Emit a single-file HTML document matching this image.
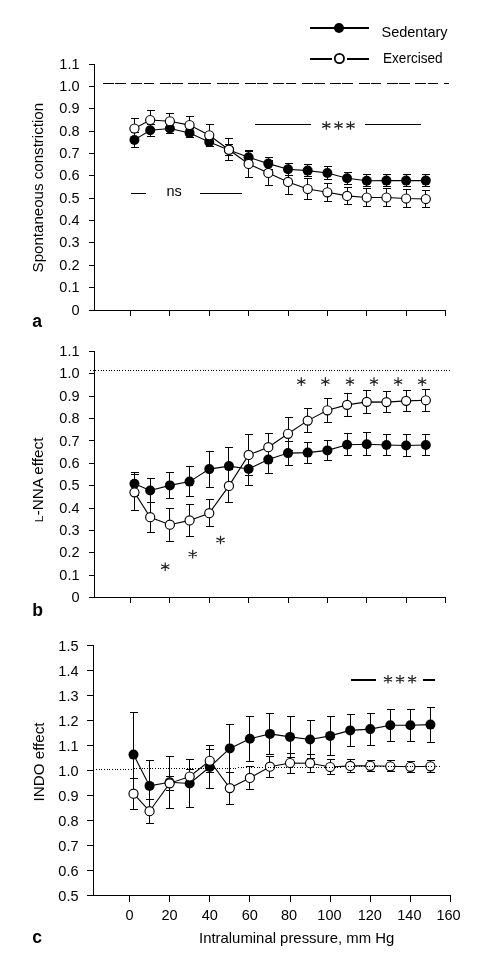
<!DOCTYPE html>
<html><head><meta charset="utf-8"><style>
html,body{margin:0;padding:0;background:#fff;}
svg{display:block;will-change:transform;}
text{font-family:"Liberation Sans", sans-serif;fill:#000;}
.tl{font-size:14.5px;}
.tt{font-size:14.5px;}
.pl{font-size:17.6px;font-weight:bold;}
.ax{fill:none;stroke:#000;stroke-width:1;shape-rendering:crispEdges;}
.eb{fill:none;stroke:#000;stroke-width:1;shape-rendering:crispEdges;}
.ln{fill:none;stroke:#000;stroke-width:1.1;}
.fm circle{fill:#000;}
.om circle{fill:#fff;stroke:#000;stroke-width:1.15;}
.dash{fill:none;stroke:#000;stroke-width:1;stroke-dasharray:11 1.2 10.5 5.7;shape-rendering:crispEdges;}
.dot{fill:none;stroke:#000;stroke-width:1;stroke-dasharray:1 1.68;shape-rendering:crispEdges;}
.ann{fill:none;stroke:#000;stroke-width:1;shape-rendering:crispEdges;}
.ann2{fill:none;stroke:#000;stroke-width:2;}
.leg{fill:none;stroke:#000;stroke-width:2;}
.ast{fill:none;stroke:#222;stroke-width:1.2;}
</style></head><body>
<svg width="498" height="969" viewBox="0 0 498 969">
<rect width="498" height="969" fill="#fff"/>
<path class="ax" d="M94.5 64.5V310.5H446M89 310.5H94.5M89 287.5H94.5M89 265.5H94.5M89 242.5H94.5M89 220.5H94.5M89 198.5H94.5M89 175.5H94.5M89 153.5H94.5M89 131.5H94.5M89 108.5H94.5M89 86.5H94.5M89 64.5H94.5M130.5 310.5V316M169.88 310.5V316M209.25 310.5V316M248.62 310.5V316M288 310.5V316M327.38 310.5V316M366.75 310.5V316M406.12 310.5V316M445.5 310.5V316"/>
<text class="tl" x="79.5" y="315.1" text-anchor="end">0</text>
<text class="tl" x="79.5" y="292.1" text-anchor="end">0.1</text>
<text class="tl" x="79.5" y="270.1" text-anchor="end">0.2</text>
<text class="tl" x="79.5" y="247.1" text-anchor="end">0.3</text>
<text class="tl" x="79.5" y="225.1" text-anchor="end">0.4</text>
<text class="tl" x="79.5" y="203.1" text-anchor="end">0.5</text>
<text class="tl" x="79.5" y="180.1" text-anchor="end">0.6</text>
<text class="tl" x="79.5" y="158.1" text-anchor="end">0.7</text>
<text class="tl" x="79.5" y="136.1" text-anchor="end">0.8</text>
<text class="tl" x="79.5" y="113.1" text-anchor="end">0.9</text>
<text class="tl" x="79.5" y="91.1" text-anchor="end">1.0</text>
<text class="tl" x="79.5" y="69.1" text-anchor="end">1.1</text>
<path class="dash" d="M103 83.5H449"/>
<path class="ann" d="M255 124.5H311M365 124.5H421M131 193.5H146M200 193.5H242"/>
<path class="ast" d="M326.3 121.2V129.8M322.2 123.6L330.4 127.4M322.2 127.4L330.4 123.6M338.5 121.2V129.8M334.4 123.6L342.6 127.4M334.4 127.4L342.6 123.6M350.5 121.2V129.8M346.4 123.6L354.6 127.4M346.4 127.4L354.6 123.6"/>
<text class="tl" x="166.4" y="195.9">ns</text>
<path class="eb" d="M134.5 132.5V147.5M130.9 132.5H139M130.9 147.5H139M134.5 118.5V138.5M130.9 118.5H139M130.9 138.5H139M150.5 124.5V136.5M146.9 124.5H155M146.9 136.5H155M150.5 110.5V129.5M146.9 110.5H155M146.9 129.5H155M169.5 123.5V133.5M165.9 123.5H174M165.9 133.5H174M169.5 113.5V128.5M165.9 113.5H174M165.9 128.5H174M189.5 128.5V137.5M185.9 128.5H194M185.9 137.5H194M189.5 116.5V133.5M185.9 116.5H194M185.9 133.5H194M209.5 137.5V146.5M205.9 137.5H214M205.9 146.5H214M209.5 124.5V146.5M205.9 124.5H214M205.9 146.5H214M228.5 144.5V155.5M224.9 144.5H233M224.9 155.5H233M228.5 138.5V160.5M224.9 138.5H233M224.9 160.5H233M248.5 151.5V162.5M244.9 151.5H253M244.9 162.5H253M248.5 150.5V177.5M244.9 150.5H253M244.9 177.5H253M268.5 157.5V169.5M264.9 157.5H273M264.9 169.5H273M268.5 160.5V185.5M264.9 160.5H273M264.9 185.5H273M288.5 163.5V175.5M284.9 163.5H293M284.9 175.5H293M288.5 169.5V194.5M284.9 169.5H293M284.9 194.5H293M307.5 164.5V176.5M303.9 164.5H312M303.9 176.5H312M307.5 178.5V199.5M303.9 178.5H312M303.9 199.5H312M327.5 166.5V179.5M323.9 166.5H332M323.9 179.5H332M327.5 183.5V201.5M323.9 183.5H332M323.9 201.5H332M347.5 172.5V184.5M343.9 172.5H352M343.9 184.5H352M347.5 187.5V204.5M343.9 187.5H352M343.9 204.5H352M366.5 174.5V186.5M362.9 174.5H371M362.9 186.5H371M366.5 188.5V206.5M362.9 188.5H371M362.9 206.5H371M386.5 174.5V186.5M382.9 174.5H391M382.9 186.5H391M386.5 188.5V206.5M382.9 188.5H391M382.9 206.5H391M406.5 174.5V186.5M402.9 174.5H411M402.9 186.5H411M406.5 189.5V207.5M402.9 189.5H411M402.9 207.5H411M425.5 174.5V186.5M421.9 174.5H430M421.9 186.5H430M425.5 190.5V207.5M421.9 190.5H430M421.9 207.5H430"/>
<polyline class="ln" points="134.44,139.9 150.19,130.3 169.88,128.5 189.56,132.9 209.25,141.9 228.94,149.9 248.62,157.3 268.31,163.6 288,169.3 307.69,170.6 327.38,173 347.06,178.3 366.75,180.8 386.44,180.6 406.12,180.6 425.81,180.6"/>
<polyline class="ln" points="134.44,128.5 150.19,120 169.88,121.3 189.56,125.1 209.25,135.3 228.94,149.7 248.62,163.9 268.31,172.9 288,181.9 307.69,189 327.38,192.3 347.06,195.9 366.75,197.5 386.44,197.5 406.12,198.5 425.81,199"/>
<g class="fm"><circle cx="134.44" cy="139.9" r="5"/><circle cx="150.19" cy="130.3" r="5"/><circle cx="169.88" cy="128.5" r="5"/><circle cx="189.56" cy="132.9" r="5"/><circle cx="209.25" cy="141.9" r="5"/><circle cx="228.94" cy="149.9" r="5"/><circle cx="248.62" cy="157.3" r="5"/><circle cx="268.31" cy="163.6" r="5"/><circle cx="288" cy="169.3" r="5"/><circle cx="307.69" cy="170.6" r="5"/><circle cx="327.38" cy="173" r="5"/><circle cx="347.06" cy="178.3" r="5"/><circle cx="366.75" cy="180.8" r="5"/><circle cx="386.44" cy="180.6" r="5"/><circle cx="406.12" cy="180.6" r="5"/><circle cx="425.81" cy="180.6" r="5"/></g>
<g class="om"><circle cx="134.44" cy="128.5" r="4.55"/><circle cx="150.19" cy="120" r="4.55"/><circle cx="169.88" cy="121.3" r="4.55"/><circle cx="189.56" cy="125.1" r="4.55"/><circle cx="209.25" cy="135.3" r="4.55"/><circle cx="228.94" cy="149.7" r="4.55"/><circle cx="248.62" cy="163.9" r="4.55"/><circle cx="268.31" cy="172.9" r="4.55"/><circle cx="288" cy="181.9" r="4.55"/><circle cx="307.69" cy="189" r="4.55"/><circle cx="327.38" cy="192.3" r="4.55"/><circle cx="347.06" cy="195.9" r="4.55"/><circle cx="366.75" cy="197.5" r="4.55"/><circle cx="386.44" cy="197.5" r="4.55"/><circle cx="406.12" cy="198.5" r="4.55"/><circle cx="425.81" cy="199" r="4.55"/></g>
<path class="ax" d="M94.5 351.5V597.5H446M89 597.5H94.5M89 575.14H94.5M89 552.77H94.5M89 530.41H94.5M89 508.05H94.5M89 485.68H94.5M89 463.32H94.5M89 440.95H94.5M89 418.59H94.5M89 396.23H94.5M89 373.86H94.5M89 351.5H94.5M130.5 597.5V603M169.88 597.5V603M209.25 597.5V603M248.62 597.5V603M288 597.5V603M327.38 597.5V603M366.75 597.5V603M406.12 597.5V603M445.5 597.5V603"/>
<text class="tl" x="79.5" y="602.1" text-anchor="end">0</text>
<text class="tl" x="79.5" y="579.74" text-anchor="end">0.1</text>
<text class="tl" x="79.5" y="557.37" text-anchor="end">0.2</text>
<text class="tl" x="79.5" y="535.01" text-anchor="end">0.3</text>
<text class="tl" x="79.5" y="512.65" text-anchor="end">0.4</text>
<text class="tl" x="79.5" y="490.28" text-anchor="end">0.5</text>
<text class="tl" x="79.5" y="467.92" text-anchor="end">0.6</text>
<text class="tl" x="79.5" y="445.55" text-anchor="end">0.7</text>
<text class="tl" x="79.5" y="423.19" text-anchor="end">0.8</text>
<text class="tl" x="79.5" y="400.83" text-anchor="end">0.9</text>
<text class="tl" x="79.5" y="378.46" text-anchor="end">1.0</text>
<text class="tl" x="79.5" y="356.1" text-anchor="end">1.1</text>
<path class="eb" d="M134.5 472.5V495.5M130.9 472.5H139M130.9 495.5H139M134.5 474.5V510.5M130.9 474.5H139M130.9 510.5H139M150.5 478.5V502.5M146.9 478.5H155M146.9 502.5H155M150.5 502.5V532.5M146.9 502.5H155M146.9 532.5H155M169.5 472.5V498.5M165.9 472.5H174M165.9 498.5H174M169.5 508.5V541.5M165.9 508.5H174M165.9 541.5H174M189.5 466.5V496.5M185.9 466.5H194M185.9 496.5H194M189.5 504.5V536.5M185.9 504.5H194M185.9 536.5H194M209.5 451.5V487.5M205.9 451.5H214M205.9 487.5H214M209.5 499.5V526.5M205.9 499.5H214M205.9 526.5H214M228.5 447.5V484.5M224.9 447.5H233M224.9 484.5H233M228.5 469.5V502.5M224.9 469.5H233M224.9 502.5H233M248.5 452.5V485.5M244.9 452.5H253M244.9 485.5H253M248.5 434.5V475.5M244.9 434.5H253M244.9 475.5H253M268.5 446.5V473.5M264.9 446.5H273M264.9 473.5H273M268.5 433.5V461.5M264.9 433.5H273M264.9 461.5H273M288.5 441.5V465.5M284.9 441.5H293M284.9 465.5H293M288.5 417.5V450.5M284.9 417.5H293M284.9 450.5H293M307.5 442.5V463.5M303.9 442.5H312M303.9 463.5H312M307.5 408.5V432.5M303.9 408.5H312M303.9 432.5H312M327.5 440.5V460.5M323.9 440.5H332M323.9 460.5H332M327.5 398.5V422.5M323.9 398.5H332M323.9 422.5H332M347.5 433.5V455.5M343.9 433.5H352M343.9 455.5H352M347.5 393.5V416.5M343.9 393.5H352M343.9 416.5H352M366.5 432.5V455.5M362.9 432.5H371M362.9 455.5H371M366.5 390.5V413.5M362.9 390.5H371M362.9 413.5H371M386.5 434.5V455.5M382.9 434.5H391M382.9 455.5H391M386.5 391.5V412.5M382.9 391.5H391M382.9 412.5H391M406.5 434.5V456.5M402.9 434.5H411M402.9 456.5H411M406.5 390.5V411.5M402.9 390.5H411M402.9 411.5H411M425.5 434.5V455.5M421.9 434.5H430M421.9 455.5H430M425.5 389.5V411.5M421.9 389.5H430M421.9 411.5H430"/>
<polyline class="ln" points="134.44,483.8 150.19,490.5 169.88,485.4 189.56,481.6 209.25,469.1 228.94,466.1 248.62,469 268.31,459.6 288,453.1 307.69,452.6 327.38,450.4 347.06,444.75 366.75,444.25 386.44,445.05 406.12,445.55 425.81,445.05"/>
<polyline class="ln" points="134.44,492.35 150.19,517.2 169.88,524.7 189.56,520.4 209.25,513.2 228.94,485.9 248.62,454.9 268.31,447.2 288,433.8 307.69,420.6 327.38,410.3 347.06,404.85 366.75,401.85 386.44,402.1 406.12,400.85 425.81,400.25"/>
<g class="fm"><circle cx="134.44" cy="483.8" r="5"/><circle cx="150.19" cy="490.5" r="5"/><circle cx="169.88" cy="485.4" r="5"/><circle cx="189.56" cy="481.6" r="5"/><circle cx="209.25" cy="469.1" r="5"/><circle cx="228.94" cy="466.1" r="5"/><circle cx="248.62" cy="469" r="5"/><circle cx="268.31" cy="459.6" r="5"/><circle cx="288" cy="453.1" r="5"/><circle cx="307.69" cy="452.6" r="5"/><circle cx="327.38" cy="450.4" r="5"/><circle cx="347.06" cy="444.75" r="5"/><circle cx="366.75" cy="444.25" r="5"/><circle cx="386.44" cy="445.05" r="5"/><circle cx="406.12" cy="445.55" r="5"/><circle cx="425.81" cy="445.05" r="5"/></g>
<g class="om"><circle cx="134.44" cy="492.35" r="4.55"/><circle cx="150.19" cy="517.2" r="4.55"/><circle cx="169.88" cy="524.7" r="4.55"/><circle cx="189.56" cy="520.4" r="4.55"/><circle cx="209.25" cy="513.2" r="4.55"/><circle cx="228.94" cy="485.9" r="4.55"/><circle cx="248.62" cy="454.9" r="4.55"/><circle cx="268.31" cy="447.2" r="4.55"/><circle cx="288" cy="433.8" r="4.55"/><circle cx="307.69" cy="420.6" r="4.55"/><circle cx="327.38" cy="410.3" r="4.55"/><circle cx="347.06" cy="404.85" r="4.55"/><circle cx="366.75" cy="401.85" r="4.55"/><circle cx="386.44" cy="402.1" r="4.55"/><circle cx="406.12" cy="400.85" r="4.55"/><circle cx="425.81" cy="400.25" r="4.55"/></g>
<path class="dot" d="M90 370.5H449.5"/>
<path class="ast" d="M165.2 562.4V571M161.1 564.8L169.3 568.6M161.1 568.6L169.3 564.8M192.7 549.8V558.4M188.6 552.2L196.8 556M188.6 556L196.8 552.2M220.5 535.7V544.3M216.4 538.1L224.6 541.9M216.4 541.9L224.6 538.1M301.3 377.3V385.9M297.2 379.7L305.4 383.5M297.2 383.5L305.4 379.7M325.4 377.3V385.9M321.3 379.7L329.5 383.5M321.3 383.5L329.5 379.7M350 377.3V385.9M345.9 379.7L354.1 383.5M345.9 383.5L354.1 379.7M374 377.3V385.9M369.9 379.7L378.1 383.5M369.9 383.5L378.1 379.7M398.1 377.3V385.9M394 379.7L402.2 383.5M394 383.5L402.2 379.7M422.2 377.3V385.9M418.1 379.7L426.3 383.5M418.1 383.5L426.3 379.7"/>
<path class="ax" d="M93.5 645.5V895.5H451M87 895.5H93.5M87 870.5H93.5M87 845.5H93.5M87 820.5H93.5M87 795.5H93.5M87 770.5H93.5M87 745.5H93.5M87 720.5H93.5M87 695.5H93.5M87 670.5H93.5M87 645.5H93.5M129.5 895.5V902M169.62 895.5V902M209.75 895.5V902M249.88 895.5V902M290 895.5V902M330.12 895.5V902M370.25 895.5V902M410.38 895.5V902M450.5 895.5V902"/>
<text class="tl" x="78.5" y="901" text-anchor="end">0.5</text>
<text class="tl" x="78.5" y="876" text-anchor="end">0.6</text>
<text class="tl" x="78.5" y="851" text-anchor="end">0.7</text>
<text class="tl" x="78.5" y="826" text-anchor="end">0.8</text>
<text class="tl" x="78.5" y="801" text-anchor="end">0.9</text>
<text class="tl" x="78.5" y="776" text-anchor="end">1.0</text>
<text class="tl" x="78.5" y="751" text-anchor="end">1.1</text>
<text class="tl" x="78.5" y="726" text-anchor="end">1.2</text>
<text class="tl" x="78.5" y="701" text-anchor="end">1.3</text>
<text class="tl" x="78.5" y="676" text-anchor="end">1.4</text>
<text class="tl" x="78.5" y="651" text-anchor="end">1.5</text>
<text class="tl" x="129.5" y="919.7" text-anchor="middle">0</text>
<text class="tl" x="169.62" y="919.7" text-anchor="middle">20</text>
<text class="tl" x="209.75" y="919.7" text-anchor="middle">40</text>
<text class="tl" x="249.88" y="919.7" text-anchor="middle">60</text>
<text class="tl" x="289" y="919.7" text-anchor="middle">80</text>
<text class="tl" x="329.43" y="919.7" text-anchor="middle">100</text>
<text class="tl" x="369.75" y="919.7" text-anchor="middle">120</text>
<text class="tl" x="409.38" y="919.7" text-anchor="middle">140</text>
<text class="tl" x="448.5" y="919.7" text-anchor="middle">160</text>
<path class="eb" d="M133.5 712.5V796.5M129.9 712.5H138M129.9 796.5H138M133.5 778.5V809.5M129.9 778.5H138M129.9 809.5H138M149.5 760.5V811.5M145.9 760.5H154M145.9 811.5H154M149.5 799.5V823.5M145.9 799.5H154M145.9 823.5H154M169.5 756.5V808.5M165.9 756.5H174M165.9 808.5H174M169.5 776.5V790.5M165.9 776.5H174M165.9 790.5H174M189.5 759.5V807.5M185.9 759.5H194M185.9 807.5H194M189.5 769.5V783.5M185.9 769.5H194M185.9 783.5H194M209.5 745.5V788.5M205.9 745.5H214M205.9 788.5H214M209.5 749.5V772.5M205.9 749.5H214M205.9 772.5H214M229.5 724.5V772.5M225.9 724.5H234M225.9 772.5H234M229.5 772.5V804.5M225.9 772.5H234M225.9 804.5H234M249.5 716.5V761.5M245.9 716.5H254M245.9 761.5H254M249.5 766.5V789.5M245.9 766.5H254M245.9 789.5H254M269.5 713.5V754.5M265.9 713.5H274M265.9 754.5H274M269.5 756.5V777.5M265.9 756.5H274M265.9 777.5H274M290.5 716.5V757.5M286.9 716.5H295M286.9 757.5H295M290.5 753.5V773.5M286.9 753.5H295M286.9 773.5H295M310.5 720.5V758.5M306.9 720.5H315M306.9 758.5H315M310.5 754.5V772.5M306.9 754.5H315M306.9 772.5H315M330.5 716.5V755.5M326.9 716.5H335M326.9 755.5H335M330.5 759.5V774.5M326.9 759.5H335M326.9 774.5H335M350.5 714.5V746.5M346.9 714.5H355M346.9 746.5H355M350.5 759.5V772.5M346.9 759.5H355M346.9 772.5H355M370.5 713.5V745.5M366.9 713.5H375M366.9 745.5H375M370.5 760.5V771.5M366.9 760.5H375M366.9 771.5H375M390.5 709.5V741.5M386.9 709.5H395M386.9 741.5H395M390.5 760.5V771.5M386.9 760.5H395M386.9 771.5H395M410.5 709.5V741.5M406.9 709.5H415M406.9 741.5H415M410.5 761.5V772.5M406.9 761.5H415M406.9 772.5H415M430.5 707.5V742.5M426.9 707.5H435M426.9 742.5H435M430.5 760.5V772.5M426.9 760.5H435M426.9 772.5H435"/>
<polyline class="ln" points="133.51,754.6 149.56,785.9 169.62,782.25 189.69,783.45 209.75,767 229.81,748.4 249.88,738.8 269.94,733.9 290,736.9 310.06,739.5 330.12,735.9 350.19,730.4 370.25,729.1 390.31,725.2 410.38,725.2 430.44,724.6"/>
<polyline class="ln" points="133.51,793.7 149.56,811.2 169.62,783.35 189.69,776.5 209.75,760.8 229.81,788.1 249.88,777.9 269.94,766.7 290,763 310.06,763.2 330.12,767 350.19,765.9 370.25,765.8 390.31,766.3 410.38,766.8 430.44,766.3"/>
<g class="fm"><circle cx="133.51" cy="754.6" r="5"/><circle cx="149.56" cy="785.9" r="5"/><circle cx="169.62" cy="782.25" r="5"/><circle cx="189.69" cy="783.45" r="5"/><circle cx="209.75" cy="767" r="5"/><circle cx="229.81" cy="748.4" r="5"/><circle cx="249.88" cy="738.8" r="5"/><circle cx="269.94" cy="733.9" r="5"/><circle cx="290" cy="736.9" r="5"/><circle cx="310.06" cy="739.5" r="5"/><circle cx="330.12" cy="735.9" r="5"/><circle cx="350.19" cy="730.4" r="5"/><circle cx="370.25" cy="729.1" r="5"/><circle cx="390.31" cy="725.2" r="5"/><circle cx="410.38" cy="725.2" r="5"/><circle cx="430.44" cy="724.6" r="5"/></g>
<g class="om"><circle cx="133.51" cy="793.7" r="4.55"/><circle cx="149.56" cy="811.2" r="4.55"/><circle cx="169.62" cy="783.35" r="4.55"/><circle cx="189.69" cy="776.5" r="4.55"/><circle cx="209.75" cy="760.8" r="4.55"/><circle cx="229.81" cy="788.1" r="4.55"/><circle cx="249.88" cy="777.9" r="4.55"/><circle cx="269.94" cy="766.7" r="4.55"/><circle cx="290" cy="763" r="4.55"/><circle cx="310.06" cy="763.2" r="4.55"/><circle cx="330.12" cy="767" r="4.55"/><circle cx="350.19" cy="765.9" r="4.55"/><circle cx="370.25" cy="765.8" r="4.55"/><circle cx="390.31" cy="766.3" r="4.55"/><circle cx="410.38" cy="766.8" r="4.55"/><circle cx="430.44" cy="766.3" r="4.55"/></g>
<path class="dot" d="M96 769.35L442 766.05"/>
<path class="ann2" d="M351 680H376M423 680H435"/>
<path class="ast" d="M388 675V683.6M383.9 677.4L392.1 681.2M383.9 681.2L392.1 677.4M400 675V683.6M395.9 677.4L404.1 681.2M395.9 681.2L404.1 677.4M412.1 675V683.6M408 677.4L416.2 681.2M408 681.2L416.2 677.4"/>
<text class="tt" transform="translate(43.4,272.4) rotate(-90)" textLength="169.5" lengthAdjust="spacingAndGlyphs">Spontaneous constriction</text>
<text class="tt" transform="translate(42.8,522.2) rotate(-90)" textLength="84.6" lengthAdjust="spacingAndGlyphs"><tspan font-size="11.5">L</tspan>-NNA effect</text>
<text class="tt" transform="translate(43.5,801.4) rotate(-90)" textLength="78.9" lengthAdjust="spacingAndGlyphs">INDO effect</text>
<text class="tt" x="199" y="942.8" textLength="195.3" lengthAdjust="spacingAndGlyphs">Intraluminal pressure, mm Hg</text>
<text class="pl" x="32.3" y="326.7">a</text>
<text class="pl" x="32.3" y="615.8">b</text>
<text class="pl" x="32.3" y="943.1">c</text>
<path class="leg" d="M310 28H369M310 59H332M347 59H369"/>
<circle cx="339" cy="28" r="5" fill="#000"/>
<circle cx="339.4" cy="58.5" r="4.6" fill="#fff" stroke="#000" stroke-width="1.8"/>
<text class="tt" x="381.5" y="36.7">Sedentary</text>
<text class="tt" x="383" y="62.7" textLength="59.6" lengthAdjust="spacingAndGlyphs">Exercised</text>
</svg>
</body></html>
